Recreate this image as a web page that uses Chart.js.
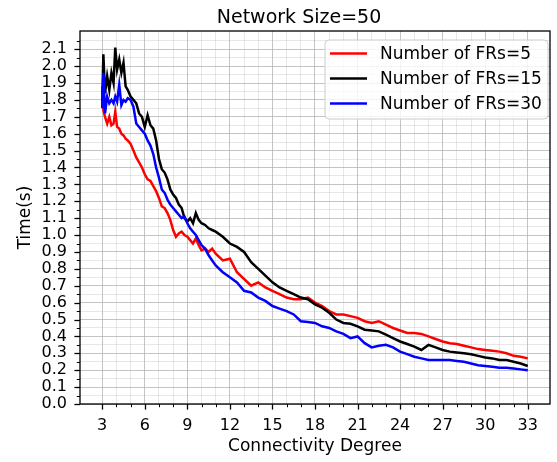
<!DOCTYPE html>
<html>
<head>
<meta charset="utf-8">
<script src="https://cdn.jsdelivr.net/npm/chart.js@4/dist/chart.umd.min.js"></script>
<style>
html,body{margin:0;padding:0;overflow:hidden;background:#fff;width:557px;height:462px;}
#wrap{width:562px;height:462px;}
</style>
</head>
<body>
<div id="wrap"><canvas id="c" width="562" height="462"></canvas></div>
<script>
// ---- data ----
const titleText = 'Network Size=50';
const xTitle = 'Connectivity Degree';
const yTitle = 'Time(s)';
const seriesNames = ['Number of FRs=5', 'Number of FRs=15', 'Number of FRs=30'];
const seriesColors = ['#ff0000', '#000000', '#0000ff'];

const degree = [
  3.0, 3.08, 3.2, 3.35, 3.5, 3.65, 3.8, 3.92,
  4.05, 4.2, 4.35, 4.5, 4.65, 4.8,
  5.0, 5.2, 5.4, 5.6, 5.8, 6.0, 6.2, 6.4, 6.6, 6.8, 7.0, 7.2, 7.4, 7.6, 7.8, 8.0, 8.2, 8.4, 8.6, 8.8, 9.0, 9.2, 9.4, 9.6, 9.8, 10.0,
  10.25, 10.5, 10.75, 11.0,
  11.5, 12.0, 12.5, 13.0, 13.5, 14.0, 14.5, 15.0, 15.5, 16.0, 16.5, 17.0, 17.5, 18.0, 18.5, 19.0, 19.5, 20.0, 20.5, 21.0, 21.5, 22.0,
  22.5, 23.0, 23.5, 24.0, 24.5, 25.0, 25.5, 26.0, 26.5, 27.0, 27.5, 28.0, 28.5, 29.0, 29.5, 30.0, 30.5, 31.0, 31.5, 32.0, 32.5, 33.0
];

const frs5 = [
  1.88, 1.74, 1.70, 1.66, 1.70, 1.65, 1.66, 1.73,
  1.64, 1.63, 1.60, 1.59, 1.57, 1.56,
  1.54, 1.50, 1.46, 1.43, 1.40, 1.36, 1.33, 1.32, 1.29, 1.26, 1.22, 1.17, 1.16, 1.13, 1.09, 1.03, 0.99, 1.01, 1.02, 1.00, 0.99, 0.97, 0.95, 0.98, 0.94, 0.91,
  0.92, 0.90, 0.92, 0.89,
  0.85, 0.86, 0.78, 0.74, 0.70, 0.72, 0.69, 0.67, 0.65, 0.63, 0.62, 0.62, 0.63, 0.60, 0.58, 0.55, 0.53, 0.53, 0.52, 0.51, 0.49, 0.48,
  0.49, 0.47, 0.45, 0.435, 0.42, 0.42, 0.415, 0.40, 0.385, 0.37, 0.36, 0.355, 0.345, 0.335, 0.325, 0.32, 0.315, 0.31, 0.30, 0.285, 0.28, 0.27
];

const frs15 = [
  1.76, 2.07, 1.84, 1.94, 1.86, 1.96, 1.90, 2.11,
  1.98, 2.04, 1.96, 2.02, 1.88, 1.86,
  1.82, 1.80, 1.78, 1.72, 1.70, 1.64, 1.71, 1.65, 1.63, 1.56, 1.45, 1.39, 1.37, 1.33, 1.27, 1.24, 1.22, 1.18, 1.16, 1.10, 1.08, 1.10, 1.07, 1.13, 1.09, 1.07,
  1.06, 1.04, 1.03, 1.02,
  0.99, 0.95, 0.93, 0.90, 0.84, 0.80, 0.76, 0.72, 0.69, 0.67, 0.65, 0.63, 0.62, 0.59, 0.57, 0.54, 0.50, 0.48, 0.475, 0.46, 0.44, 0.435,
  0.43, 0.41, 0.39, 0.37, 0.355, 0.34, 0.32, 0.35, 0.335, 0.32, 0.31, 0.305, 0.30, 0.295, 0.285, 0.275, 0.27, 0.26, 0.26, 0.25, 0.24, 0.225
];

const frs30 = [
  1.75, 1.96, 1.72, 1.82, 1.78, 1.80, 1.78, 1.82,
  1.79, 1.89, 1.77, 1.80, 1.79, 1.81,
  1.80, 1.76, 1.66, 1.64, 1.62, 1.60, 1.56, 1.53, 1.48, 1.40, 1.34, 1.27, 1.25, 1.21, 1.18, 1.16, 1.14, 1.12, 1.10, 1.11, 1.07, 1.04, 1.02, 1.00, 0.97, 0.94,
  0.92, 0.88, 0.85, 0.82,
  0.78, 0.75, 0.72, 0.67, 0.66, 0.63, 0.61, 0.58, 0.565, 0.55, 0.53, 0.49, 0.485, 0.48, 0.46, 0.45, 0.43, 0.415, 0.39, 0.40, 0.36, 0.335,
  0.345, 0.35, 0.335, 0.31, 0.295, 0.28, 0.27, 0.26, 0.26, 0.26, 0.26, 0.255, 0.25, 0.24, 0.23, 0.225, 0.22, 0.215, 0.215, 0.21, 0.205, 0.20
];

const xMajorStep = 3;   // labelled x ticks: 3, 6, ..., 33
const yMajorStep = 0.1; // labelled y ticks: 0.0 ... 2.1

// ---- chart ----
const FONT = '"DejaVu Sans", sans-serif';
Chart.defaults.color = '#000';
Chart.defaults.font.family = FONT;

const seriesValues = [frs5, frs15, frs30];
const datasets = seriesValues.map((ys, i) => ({
  label: seriesNames[i],
  data: degree.map((x, j) => ({x: x, y: ys[j]})),
  borderColor: seriesColors[i],
  backgroundColor: seriesColors[i],
  borderWidth: 2.5,
  pointRadius: 0,
  tension: 0,
  fill: false,
  order: 2 - i
}));

function isInt(v){ return Math.abs(v - Math.round(v)) < 1e-6; }
function isMult(v, s){ const k = v / s; return Math.abs(k - Math.round(k)) < 1e-6; }

const decor = {
  id: 'decor',
  afterDatasetsDraw(chart) {
    const {ctx, chartArea: a, scales: {x, y}} = chart;
    ctx.save();
    ctx.strokeStyle = '#000';
    x.ticks.forEach(t => {
      const v = t.value;
      if (!isInt(v)) return;
      const major = Math.round(v) % xMajorStep === 0;
      const px = Math.round(x.getPixelForValue(v)) + 0.5;
      ctx.lineWidth = major ? 1.3 : 1;
      ctx.beginPath();
      ctx.moveTo(px, a.bottom);
      ctx.lineTo(px, a.bottom + (major ? 5.6 : 3.2));
      ctx.stroke();
    });
    y.ticks.forEach(t => {
      const v = t.value;
      if (!isMult(v, yMajorStep / 2)) return;
      const major = isMult(v, yMajorStep);
      const py = Math.round(y.getPixelForValue(v)) + 0.5;
      ctx.lineWidth = major ? 1.3 : 1;
      ctx.beginPath();
      ctx.moveTo(a.left, py);
      ctx.lineTo(a.left - (major ? 5.6 : 3.2), py);
      ctx.stroke();
    });
    ctx.lineWidth = 1.3;
    ctx.strokeRect(a.left, a.top, a.right - a.left, a.bottom - a.top);
    ctx.restore();
  },
  afterDraw(chart) {
    const ctx = chart.ctx;
    ctx.save();
    // title
    ctx.fillStyle = '#000';
    ctx.font = '19px ' + FONT;
    ctx.textAlign = 'center';
    ctx.textBaseline = 'alphabetic';
    ctx.fillText(titleText, 299, 22.5);
    // legend
    const bx = 325, by = 40, bw = 223, bh = 79, r = 4;
    ctx.beginPath();
    ctx.moveTo(bx + r, by);
    ctx.arcTo(bx + bw, by, bx + bw, by + bh, r);
    ctx.arcTo(bx + bw, by + bh, bx, by + bh, r);
    ctx.arcTo(bx, by + bh, bx, by, r);
    ctx.arcTo(bx, by, bx + bw, by, r);
    ctx.closePath();
    ctx.fillStyle = 'rgba(255,255,255,0.8)';
    ctx.fill();
    ctx.strokeStyle = '#cccccc';
    ctx.lineWidth = 1;
    ctx.stroke();
    ctx.font = '17px ' + FONT;
    ctx.textAlign = 'left';
    ctx.textBaseline = 'middle';
    seriesNames.forEach((name, i) => {
      const ly = 53.5 + i * 25;
      ctx.strokeStyle = seriesColors[i];
      ctx.lineWidth = 2.5;
      ctx.beginPath();
      ctx.moveTo(330, ly);
      ctx.lineTo(367, ly);
      ctx.stroke();
      ctx.fillStyle = '#000';
      ctx.fillText(name, 380, ly + 1);
    });
    ctx.restore();
  }
};

new Chart(document.getElementById('c'), {
  type: 'line',
  data: {datasets},
  options: {
    responsive: false,
    animation: false,
    layout: {padding: {left: 0, top: 31, right: 1.6, bottom: 0}},
    plugins: {legend: {display: false}, tooltip: {enabled: false}, title: {display: false}},
    scales: {
      x: {
        type: 'linear',
        min: 1.434,
        max: 34.566,
        afterFit: s => { s.height = 58; },
        ticks: {
          stepSize: 1,
          autoSkip: false,
          maxRotation: 0,
          padding: 12,
          font: {size: 16, family: FONT},
          color: '#000',
          callback: v => (isInt(v) && Math.round(v) % xMajorStep === 0) ? String(Math.round(v)) : ''
        },
        grid: {
          drawTicks: false,
          lineWidth: 1,
          color: c => {
            const v = c.tick ? c.tick.value : 0;
            if (!isInt(v)) return 'rgba(0,0,0,0)';
            return Math.round(v) % xMajorStep === 0 ? 'rgba(176,176,176,0.75)' : 'rgba(176,176,176,0.3)';
          }
        },
        border: {display: false},
        title: {display: true, text: xTitle, font: {size: 17, family: FONT}, color: '#000', padding: {top: 0, bottom: 5}}
      },
      y: {
        type: 'linear',
        min: 0,
        max: 2.208,
        afterFit: s => { s.width = 80; },
        ticks: {
          stepSize: 0.05,
          autoSkip: false,
          padding: 13,
          font: {size: 16, family: FONT},
          color: '#000',
          callback: v => isMult(v, yMajorStep) && v < 2.2 + 1e-6 ? v.toFixed(1) : ''
        },
        grid: {
          drawTicks: false,
          lineWidth: 1,
          color: c => {
            const v = c.tick ? c.tick.value : 0;
            if (!isMult(v, yMajorStep / 2)) return 'rgba(0,0,0,0)';
            return isMult(v, yMajorStep) ? 'rgba(176,176,176,0.75)' : 'rgba(176,176,176,0.3)';
          }
        },
        border: {display: false},
        title: {display: true, text: yTitle, font: {size: 17, family: FONT}, color: '#000', padding: {top: 15, bottom: 0}}
      }
    }
  },
  plugins: [decor]
});
</script>
</body>
</html>
